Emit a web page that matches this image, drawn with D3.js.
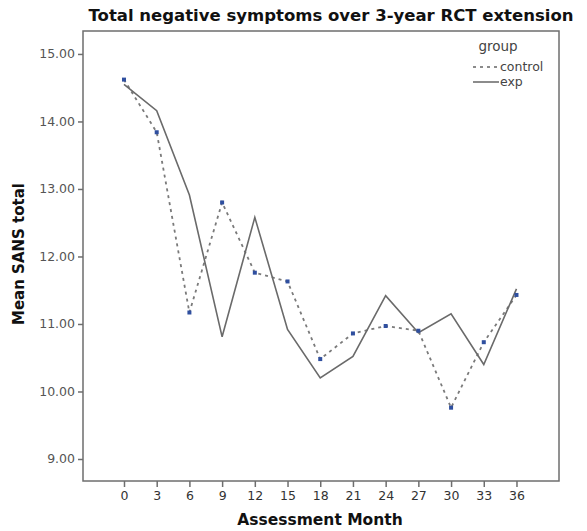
<!DOCTYPE html>
<html><head><meta charset="utf-8">
<script src="https://cdn.jsdelivr.net/npm/d3@7/dist/d3.min.js"></script>
<style>body{margin:0;background:#fff}svg{display:block}</style>
</head><body>
<svg id="c" width="587" height="531"></svg>
<script>
const months = [0,3,6,9,12,15,18,21,24,27,30,33,36];
const controlVals = [14.62,13.84,11.17,12.80,11.76,11.63,10.48,10.86,10.97,10.90,9.76,10.73,11.43];
const expVals = [14.55,14.16,12.91,10.81,12.58,10.92,10.20,10.52,11.42,10.87,11.15,10.40,11.52];
const yTicks = [9,10,11,12,13,14,15];
const legendLabels = ["control","exp"];

const svg = d3.select("#c");
const L=83,R=559,T=31,B=481;
const x = d3.scaleLinear().domain([-3.76,39.9]).range([L,R]);
const y = d3.scaleLinear().domain([8.674,15.34]).range([B,T]);
const font = "'DejaVu Sans', Verdana, sans-serif";

svg.append("rect").attr("x",L).attr("y",T).attr("width",R-L).attr("height",B-T)
  .attr("fill","none").attr("stroke","#6e6e6e").attr("stroke-width",1.5);

const ya = svg.append("g").attr("transform",`translate(${L},0)`)
  .call(d3.axisLeft(y).tickValues(yTicks).tickFormat(d3.format(".2f")).tickSize(5).tickPadding(3));
ya.select(".domain").remove();
ya.selectAll("line").attr("stroke","#6e6e6e").attr("stroke-width",1.5);
ya.selectAll("text").attr("fill","#555").style("font-family",font).style("font-size","12.5px");

const xa = svg.append("g").attr("transform",`translate(0,${B})`)
  .call(d3.axisBottom(x).tickValues(months).tickFormat(d3.format("d")).tickSize(6).tickPadding(4));
xa.select(".domain").remove();
xa.selectAll("line").attr("stroke","#6e6e6e").attr("stroke-width",1.5);
xa.selectAll("text").attr("fill","#333").style("font-family",font).style("font-size","12.5px");

const line = d3.line().x((d,i)=>x(months[i])).y(d=>y(d));
svg.append("path").datum(controlVals).attr("d",line).attr("fill","none")
  .attr("stroke","#7a7a7a").attr("stroke-width",1.8).attr("stroke-dasharray","3,4");
svg.append("path").datum(expVals).attr("d",line).attr("fill","none")
  .attr("stroke","#6a6a6a").attr("stroke-width",1.6);
svg.selectAll(".m").data(controlVals).enter().append("rect")
  .attr("x",(d,i)=>x(months[i])-2).attr("y",d=>y(d)-2).attr("width",4).attr("height",4)
  .attr("fill","#2f4f9f");

svg.append("text").attr("x",331).attr("y",21).attr("text-anchor","middle")
  .style("font-family",font).style("font-weight","bold").style("font-size","16.5px").attr("fill","#111")
  .text("Total negative symptoms over 3-year RCT extension");
svg.append("text").attr("x",320).attr("y",525).attr("text-anchor","middle")
  .style("font-family",font).style("font-weight","bold").style("font-size","15.5px").attr("fill","#111")
  .text("Assessment Month");
svg.append("text").attr("transform","translate(24,254) rotate(-90)").attr("text-anchor","middle")
  .style("font-family",font).style("font-weight","bold").style("font-size","15px").attr("fill","#111")
  .text("Mean SANS total");

svg.append("text").attr("x",498).attr("y",51).attr("text-anchor","middle")
  .style("font-family",font).style("font-size","13.5px").attr("fill","#444").text("group");
const lg = svg.append("g");
legendLabels.forEach((lab,i)=>{
  const yy = 67 + i*15;
  lg.append("line").attr("x1",473).attr("x2",499).attr("y1",yy).attr("y2",yy)
    .attr("stroke","#666").attr("stroke-width",1.5).attr("stroke-dasharray", i===0?"3,4":null);
  lg.append("text").attr("x",500).attr("y",yy+4).style("font-family",font).style("font-size","12.5px")
    .attr("fill","#444").text(lab);
});
</script>
</body></html>
